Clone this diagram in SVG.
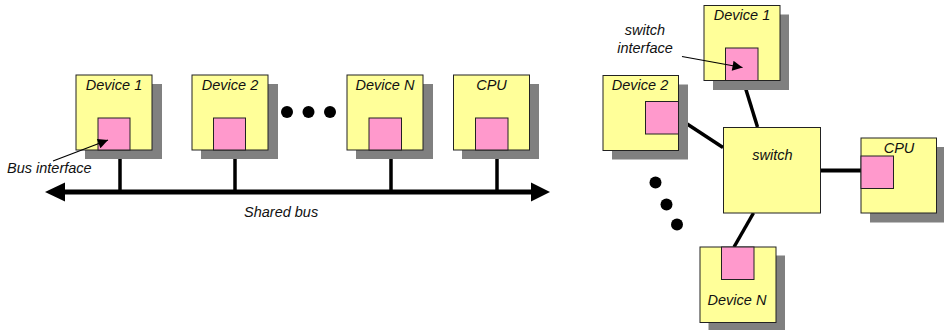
<svg xmlns="http://www.w3.org/2000/svg" width="944" height="330" viewBox="0 0 944 330">
<style>
.shadow{fill:#808080}
.box{fill:#FFFF99;stroke:#222;stroke-width:1}
.port{fill:#FF99CC;stroke:#222;stroke-width:1}
.lbl{font-family:"Liberation Sans",Arial,sans-serif;font-size:14.5px;font-style:italic;fill:#111}
.wire{stroke:#000;stroke-width:3.5;fill:none}
.ptr{stroke:#000;stroke-width:1.2;fill:none}
.dot{fill:#000}
</style>
<defs>
<marker id="ah" viewBox="0 0 10 10" refX="10" refY="5" markerWidth="13" markerHeight="10" markerUnits="userSpaceOnUse" orient="auto">
<path d="M0,0 L10,5 L0,10 z" fill="#000"/>
</marker>
</defs>
<rect width="944" height="330" fill="#fff"/>

<!-- Left: shared bus -->
<g id="connectors-bus">
<line x1="63" y1="192" x2="533" y2="192" stroke="#000" stroke-width="5"/>
<polygon points="45,192 65,182.5 65,201.5" fill="#000"/>
<polygon points="550,192 531,182.5 531,201.5" fill="#000"/>
<line class="wire" x1="120" y1="150" x2="120" y2="192"/>
<line class="wire" x1="235" y1="150" x2="235" y2="192"/>
<line class="wire" x1="391" y1="150" x2="391" y2="192"/>
<line class="wire" x1="497" y1="150" x2="497" y2="192"/>
</g>

<g id="bus-dev1">
<rect class="shadow" x="85" y="84" width="77" height="75"/>
<rect class="box" x="76" y="75" width="76" height="75"/>
<rect class="port" x="98" y="118" width="32" height="32"/>
<text class="lbl" x="114" y="90" text-anchor="middle">Device 1</text>
</g>
<g id="bus-dev2">
<rect class="shadow" x="201" y="84" width="77" height="75"/>
<rect class="box" x="192" y="75" width="76" height="75"/>
<rect class="port" x="213.5" y="118" width="32" height="32"/>
<text class="lbl" x="230" y="90" text-anchor="middle">Device 2</text>
</g>
<g id="bus-dots">
<circle class="dot" cx="287" cy="112" r="6"/>
<circle class="dot" cx="308.5" cy="112" r="6"/>
<circle class="dot" cx="330" cy="112" r="6"/>
</g>
<g id="bus-devN">
<rect class="shadow" x="356" y="84" width="77" height="75"/>
<rect class="box" x="347" y="75" width="76" height="75"/>
<rect class="port" x="369" y="118" width="32.5" height="32"/>
<text class="lbl" x="385" y="90" text-anchor="middle">Device N</text>
</g>
<g id="bus-cpu">
<rect class="shadow" x="462" y="84" width="77" height="75"/>
<rect class="box" x="453.5" y="75" width="76" height="75"/>
<rect class="port" x="475.5" y="118" width="32.5" height="32"/>
<text class="lbl" x="491.5" y="90" text-anchor="middle">CPU</text>
</g>
<g id="bus-labels">
<text class="lbl" x="7" y="173">Bus interface</text>
<text class="lbl" x="244" y="217">Shared bus</text>
</g>

<!-- Right: switch -->
<g id="connectors-switch">
<line class="wire" x1="743" y1="80" x2="757.5" y2="127"/>
<line class="wire" x1="678" y1="118" x2="723" y2="147.5"/>
<line x1="820" y1="170.5" x2="861" y2="170.5" stroke="#000" stroke-width="4"/>
<line class="wire" x1="753.5" y1="213" x2="734" y2="247"/>
</g>

<g id="sw-dev1">
<rect class="shadow" x="713" y="14.5" width="76" height="75.5"/>
<rect class="box" x="704" y="5.5" width="76" height="75"/>
<rect class="port" x="725.5" y="48" width="32.5" height="32.5"/>
<text class="lbl" x="742" y="20" text-anchor="middle">Device 1</text>
</g>
<g id="sw-dev2">
<rect class="shadow" x="612" y="84.5" width="76" height="75"/>
<rect class="box" x="603" y="75.5" width="75.5" height="75"/>
<rect class="port" x="645.5" y="101.5" width="33" height="32.5"/>
<text class="lbl" x="640" y="90" text-anchor="middle">Device 2</text>
</g>
<g id="sw-switch">
<rect class="box" x="723.5" y="127.5" width="97" height="85.5"/>
<text class="lbl" x="772.5" y="159.5" text-anchor="middle">switch</text>
</g>
<g id="sw-cpu">
<rect class="shadow" x="870" y="147" width="80" height="75.5"/>
<rect class="box" x="861" y="138" width="75.5" height="75"/>
<rect class="port" x="861" y="156" width="32.5" height="32.5"/>
<text class="lbl" x="899" y="153" text-anchor="middle">CPU</text>
</g>
<g id="sw-dots">
<circle class="dot" cx="655.5" cy="182.5" r="6"/>
<circle class="dot" cx="666.5" cy="204.5" r="6"/>
<circle class="dot" cx="677" cy="224.5" r="6"/>
</g>
<g id="sw-devN">
<rect class="shadow" x="708.5" y="255.5" width="76.5" height="75"/>
<rect class="box" x="700" y="247" width="76" height="75.5"/>
<rect class="port" x="721.5" y="247" width="32.5" height="32.5"/>
<text class="lbl" x="737" y="305" text-anchor="middle">Device N</text>
</g>
<g id="sw-labels">
<text class="lbl" x="645" y="35" text-anchor="middle">switch</text>
<text class="lbl" x="645" y="52.5" text-anchor="middle">interface</text>
</g>

<g id="pointers">
<line class="ptr" x1="53" y1="161" x2="108" y2="140" marker-end="url(#ah)"/>
<line class="ptr" x1="682" y1="56.5" x2="742.5" y2="67.5" marker-end="url(#ah)"/>
</g>
</svg>
